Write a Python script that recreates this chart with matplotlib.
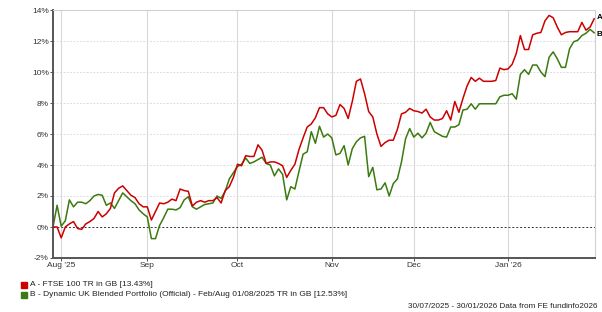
import numpy as np
import pandas as pd
import matplotlib
matplotlib.use('Agg')
import matplotlib.pyplot as plt
from matplotlib.patches import Rectangle

plt.rcParams['font.family'] = ['Liberation Sans', 'DejaVu Sans']

# %% data (cumulative % return, one value per business day)
dates = pd.bdate_range('2025-07-30', '2026-01-30')

ftse = [0, 0, -0.7, 0.0, 0.2, 0.35, -0.1, -0.15, 0.2, 0.35,
        0.55, 1.0, 0.65, 0.85, 1.2, 2.2, 2.5, 2.65, 2.35, 2.05,
        1.9, 1.5, 1.3, 1.3, 0.45, 1.0, 1.55, 1.5, 1.6, 1.8,
        1.7, 2.45, 2.35, 2.3, 1.35, 1.6, 1.7, 1.6, 1.7, 1.7,
        1.9, 1.55, 2.35, 2.6, 3.2, 4.05, 3.95, 4.6, 4.55, 4.55,
        5.3, 4.95, 4.1, 4.2, 4.2, 4.1, 3.95, 3.2, 3.65, 4.05,
        5.0, 5.75, 6.45, 6.65, 7.05, 7.7, 7.7, 7.3, 7.1, 7.2,
        7.9, 7.65, 7.0, 8.1, 9.4, 9.55, 8.6, 7.45, 7.1, 6.0,
        5.2, 5.45, 5.6, 5.6, 6.3, 7.3, 7.4, 7.65, 7.5, 7.45,
        7.35, 7.6, 7.1, 6.9, 6.9, 7.0, 7.5, 6.9, 8.1, 7.4,
        8.3, 9.1, 9.65, 9.4, 9.6, 9.4, 9.4, 9.4, 9.45, 10.25,
        10.15, 10.2, 10.5, 11.2, 12.35, 11.45, 11.45, 12.4, 12.5, 12.55,
        13.3, 13.65, 13.5, 12.9, 12.4, 12.55, 12.6, 12.6, 12.6, 13.2,
        12.7, 12.9, 13.43]

dynamic = [0, 1.4, 0.05, 0.4, 1.75, 1.3, 1.6, 1.6, 1.5, 1.7,
           2.0, 2.1, 2.05, 1.4, 1.55, 1.2, 1.7, 2.2, 1.95, 1.7,
           1.5, 1.1, 0.85, 0.65, -0.75, -0.75, 0.1, 0.6, 1.15, 1.15,
           1.1, 1.25, 1.75, 1.95, 1.3, 1.15, 1.3, 1.45, 1.5, 1.55,
           2.0, 1.85, 2.3, 3.1, 3.5, 3.9, 4.05, 4.45, 4.1, 4.2,
           4.35, 4.5, 4.1, 4.0, 3.3, 3.75, 3.4, 1.75, 2.6, 2.45,
           3.6, 4.7, 4.85, 6.15, 5.4, 6.5, 5.8, 6.0, 5.75, 4.65,
           4.75, 5.25, 4.0, 5.05, 5.5, 5.75, 5.85, 3.25, 3.85, 2.4,
           2.45, 2.85, 2.0, 2.8, 3.1, 4.2, 5.7, 6.35, 5.8, 6.05,
           5.75, 6.05, 6.75, 6.15, 6.0, 5.85, 5.8, 6.45, 6.45, 6.6,
           7.55, 7.6, 7.95, 7.6, 7.95, 7.95, 7.95, 7.95, 7.95, 8.4,
           8.5, 8.5, 8.6, 8.25, 9.85, 10.15, 9.85, 10.45, 10.45, 10.0,
           9.7, 10.95, 11.3, 10.85, 10.3, 10.3, 11.5, 11.95, 12.05, 12.35,
           12.5, 12.75, 12.53]

month_labels = ["Aug '25", 'Sep', 'Oct', 'Nov', 'Dec', "Jan '26"]
yticks = [-2, 0, 2, 4, 6, 8, 10, 12, 14]

legend_labels = ['A - FTSE 100 TR in GB [13.43%]',
                 'B - Dynamic UK Blended Portfolio (Official) - Feb/Aug 01/08/2025 TR in GB [12.53%]']
footer = '30/07/2025 - 30/01/2026 Data from FE fundinfo2026'

red = '#cc0000'
green = '#3a7a10'

# %% plot
W, H = 602, 312
fig = plt.figure(figsize=(W / 100, H / 100), dpi=100)
ax = fig.add_axes([53 / W, (H - 258) / H, (595 - 53) / W, (258 - 10) / H])

x = np.arange(len(dates))
month_pos = [int(np.argmax(dates.to_period('M') == p)) for p in dates.to_period('M').unique()[1:]]

for m in month_pos:
    ax.axvline(m, color='#d9d9d9', lw=0.8, zorder=0)
for v in yticks[1:]:
    if v != 0:
        ax.axhline(v, color='#d4d4d4', lw=0.6, ls=(0, (2, 2)), zorder=0)
ax.axhline(0, color='#333333', lw=0.7, ls=(0, (2, 2)), zorder=1)

ax.plot(x, ftse, color=red, lw=1.1, zorder=3)
ax.plot(x, dynamic, color=green, lw=1.1, zorder=2)

ax.annotate('A', xy=(x[-1], ftse[-1]), xytext=(2, 1), textcoords='offset points',
            fontsize=5.8, fontweight='bold', va='center', ha='left', annotation_clip=False)
ax.annotate('B', xy=(x[-1], dynamic[-1]), xytext=(2, -1), textcoords='offset points',
            fontsize=5.8, fontweight='bold', va='center', ha='left', annotation_clip=False)

ax.set_xlim(0, len(x) - 1 + 0.2)
ax.set_ylim(-2, 14)
ax.set_xticks(month_pos)
ax.set_xticklabels(month_labels)
ax.set_yticks(yticks)
ax.set_yticklabels([f'{v}%' for v in yticks])
ax.tick_params(axis='both', labelsize=6, colors='#333333', length=2, width=0.6, pad=1)
ax.tick_params(axis='x', pad=1)

for s in ['left', 'bottom']:
    ax.spines[s].set_color('#555555')
    ax.spines[s].set_linewidth(1.4)
for s in ['top', 'right']:
    ax.spines[s].set_color('#d0d0d0')
    ax.spines[s].set_linewidth(0.8)

# legend under the chart
for i, (lab, c) in enumerate(zip(legend_labels, [red, green])):
    yy = (H - 285 - 10 * i) / H
    fig.add_artist(Rectangle((21 / W, yy - 2.8 / H), 5.5 / W, 5.5 / H,
                             transform=fig.transFigure, color=c))
    fig.text(30 / W, yy, lab, fontsize=6, color='#222222', va='center', ha='left')

fig.text(597 / W, (H - 306) / H, footer, fontsize=5.9, color='#222222', va='center', ha='right')

fig.savefig('out.png', dpi=100)
